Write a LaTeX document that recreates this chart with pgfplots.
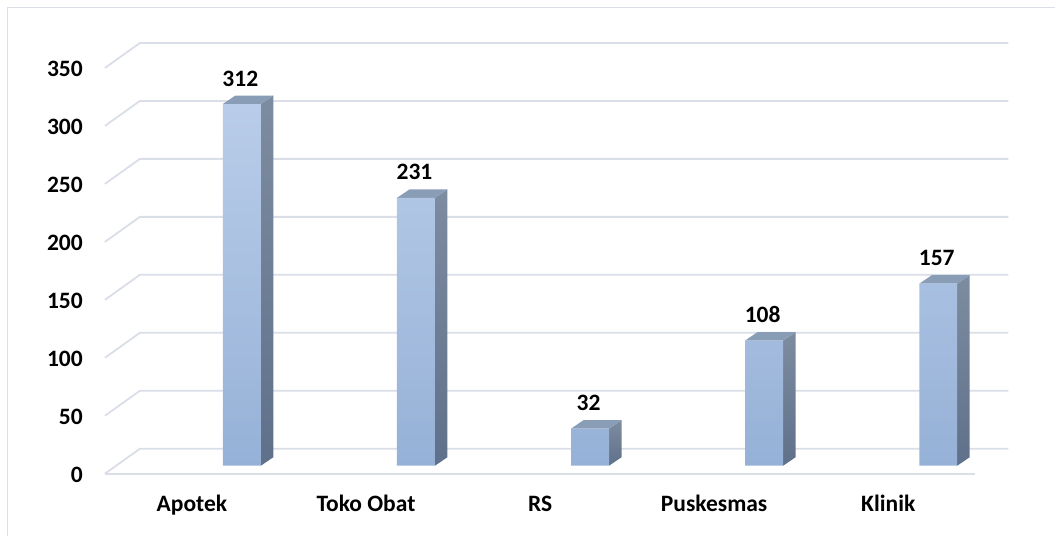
\documentclass[border=0pt]{standalone}
\usepackage{pgfplots}
\pgfplotsset{compat=1.18}
\usepackage{fontspec}
\setmainfont{Carlito}
\definecolor{gridc}{RGB}{217,222,231}
\definecolor{frontTop}{RGB}{185,205,233}
\definecolor{frontMid}{RGB}{171,197,235}
\definecolor{frontBot}{RGB}{150,177,215}
\definecolor{sideTop}{RGB}{125,140,160}
\definecolor{sideBot}{RGB}{95,112,138}
\definecolor{topc}{RGB}{138,157,183}
\newcommand{\lblfont}{\bfseries\fontsize{23.5}{28}\selectfont}
\begin{document}
\begin{tikzpicture}
\begin{axis}[
  width=1056pt, height=536pt, scale only axis,
  xmin=-1.3892, xmax=4.6728, ymin=-60.34, ymax=401.72,
  clip=false,
  axis line style={draw=none}, tick style={draw=none},
  xtick={0,1,2,3,4},
  xticklabels={Apotek, Toko Obat, RS, Puskesmas, Klinik},
  ytick={0,50,100,150,200,250,300,350},
  /pgf/number format/assume math mode=true,
  ticklabel style={font=\lblfont, inner sep=0pt},
  xticklabel style={anchor=base, xshift=-50pt, yshift=24pt},
  yticklabel style={anchor=base east, xshift=83pt, yshift=-16.5pt},
]
% frame (top and left edges)
\draw[gridc, line width=1.3pt] (axis cs:-1.3462,-60.34) -- (axis cs:-1.3462,395.26) -- (axis cs:4.6728,395.26);
% gridlines (floor + back wall)
\addplot[gridc, line width=1.8pt, mark=none] coordinates {(-0.7865,-6.9) (4.2135,-6.9)};
\addplot[gridc, line width=1.8pt, mark=none] coordinates {(-0.7865,-6.9) (-0.5855,14.66) (4.403,14.66)};
\addplot[gridc, line width=1.8pt, mark=none] coordinates {(-0.7865,43.1) (-0.5855,64.66) (4.403,64.66)};
\addplot[gridc, line width=1.8pt, mark=none] coordinates {(-0.7865,93.1) (-0.5855,114.66) (4.403,114.66)};
\addplot[gridc, line width=1.8pt, mark=none] coordinates {(-0.7865,143.1) (-0.5855,164.66) (4.403,164.66)};
\addplot[gridc, line width=1.8pt, mark=none] coordinates {(-0.7865,193.1) (-0.5855,214.66) (4.403,214.66)};
\addplot[gridc, line width=1.8pt, mark=none] coordinates {(-0.7865,243.1) (-0.5855,264.66) (4.403,264.66)};
\addplot[gridc, line width=1.8pt, mark=none] coordinates {(-0.7865,293.1) (-0.5855,314.66) (4.403,314.66)};
\addplot[gridc, line width=1.8pt, mark=none] coordinates {(-0.7865,343.1) (-0.5855,364.66) (4.403,364.66)};
% side faces
\addplot[draw=none, top color=sideTop, bottom color=sideBot, mark=none] coordinates {(0.109,0) (0.1808,7.33) (0.1808,319.33) (0.109,312)};
\addplot[draw=none, top color=sideTop, bottom color=sideBot, mark=none] coordinates {(1.109,0) (1.1808,7.33) (1.1808,238.33) (1.109,231)};
\addplot[draw=none, top color=sideTop, bottom color=sideBot, mark=none] coordinates {(2.109,0) (2.1808,7.33) (2.1808,39.33) (2.109,32)};
\addplot[draw=none, top color=sideTop, bottom color=sideBot, mark=none] coordinates {(3.109,0) (3.1808,7.33) (3.1808,115.33) (3.109,108)};
\addplot[draw=none, top color=sideTop, bottom color=sideBot, mark=none] coordinates {(4.109,0) (4.1808,7.33) (4.1808,164.33) (4.109,157)};
% top faces
\addplot[draw=none, fill=topc, mark=none] coordinates {(-0.109,312) (-0.0372,319.33) (0.1808,319.33) (0.109,312)};
\addplot[draw=none, fill=topc, mark=none] coordinates {(0.891,231) (0.9628,238.33) (1.1808,238.33) (1.109,231)};
\addplot[draw=none, fill=topc, mark=none] coordinates {(1.891,32) (1.9628,39.33) (2.1808,39.33) (2.109,32)};
\addplot[draw=none, fill=topc, mark=none] coordinates {(2.891,108) (2.9628,115.33) (3.1808,115.33) (3.109,108)};
\addplot[draw=none, fill=topc, mark=none] coordinates {(3.891,157) (3.9628,164.33) (4.1808,164.33) (4.109,157)};
% front faces
\addplot[ybar, bar width=0.218, draw=none, top color=frontTop, middle color=frontMid, bottom color=frontBot,
  nodes near coords,
  nodes near coords style={font=\lblfont, anchor=base, inner sep=0pt, yshift=18pt, xshift=-1.5pt, text=black},
  /pgf/number format/assume math mode=true]
  coordinates {(0,312) (1,231) (2,32) (3,108) (4,157)};
\end{axis}
\end{tikzpicture}
\end{document}
